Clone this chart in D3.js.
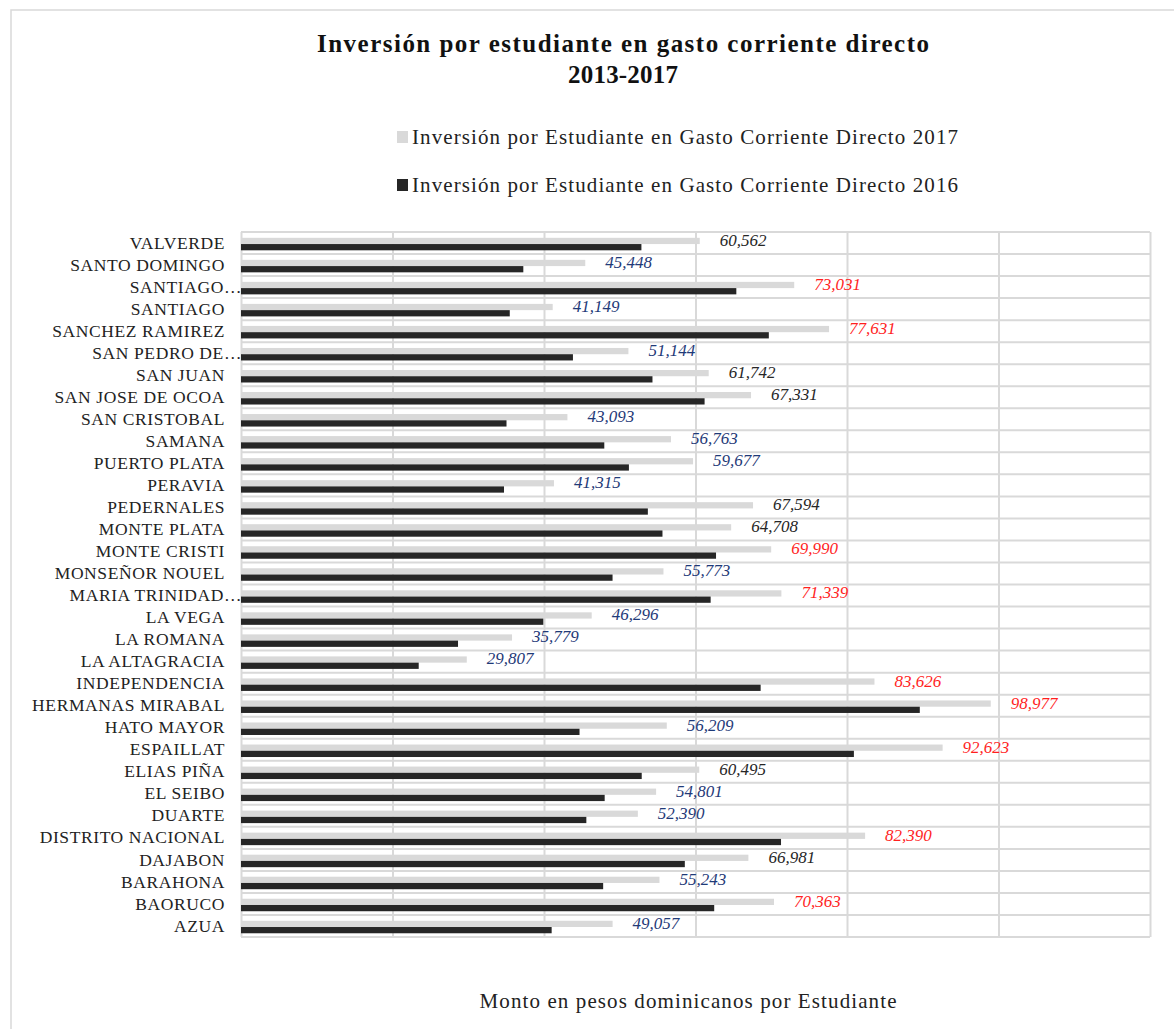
<!DOCTYPE html>
<html>
<head>
<meta charset="utf-8">
<script src="https://cdn.jsdelivr.net/npm/d3@7"></script>
<style>
  body { margin: 0; background: #fff; }
  text { font-family: "Liberation Serif", "DejaVu Serif", serif; }
</style>
</head>
<body>
<script>
// provincias, de arriba hacia abajo como en el gráfico
var provincias = ["VALVERDE", "SANTO DOMINGO", "SANTIAGO…", "SANTIAGO", "SANCHEZ RAMIREZ",
  "SAN PEDRO DE…", "SAN JUAN", "SAN JOSE DE OCOA", "SAN CRISTOBAL", "SAMANA", "PUERTO PLATA",
  "PERAVIA", "PEDERNALES", "MONTE PLATA", "MONTE CRISTI", "MONSEÑOR NOUEL", "MARIA TRINIDAD…",
  "LA VEGA", "LA ROMANA", "LA ALTAGRACIA", "INDEPENDENCIA", "HERMANAS MIRABAL", "HATO MAYOR",
  "ESPAILLAT", "ELIAS PIÑA", "EL SEIBO", "DUARTE", "DISTRITO NACIONAL", "DAJABON", "BARAHONA",
  "BAORUCO", "AZUA"];

// 2017 (etiquetas en el gráfico)
var valores2017 = [60562, 45448, 73031, 41149, 77631, 51144, 61742, 67331, 43093, 56763, 59677,
  41315, 67594, 64708, 69990, 55773, 71339, 46296, 35779, 29807, 83626, 98977, 56209,
  92623, 60495, 54801, 52390, 82390, 66981, 55243, 70363, 49057];

// 2016 (sin etiquetas, estimado por largo de barra)
var valores2016 = [52860, 37270, 65390, 35480, 69680, 43820, 54320, 61200, 35050, 47960, 51210,
  34720, 53710, 55640, 62710, 49050, 62000, 39910, 28650, 23460, 68600, 89610, 44690,
  80910, 52900, 48010, 45590, 71290, 58590, 47810, 62470, 41010];

var series = ["Inversión por Estudiante en Gasto Corriente Directo 2017",
  "Inversión por Estudiante en Gasto Corriente Directo 2016"];
var colores = ["#d9d9d9", "#262626"];

var titulo = ["Inversión por estudiante en gasto corriente directo", "2013-2017"];
var tituloEje = "Monto en pesos dominicanos por Estudiante";

var width = 1174, height = 1029;
var plot = {left: 241, right: 1150, top: 232, bottom: 937};

var svg = d3.select("body").append("svg")
  .attr("width", width)
  .attr("height", height);

// marco exterior
svg.append("rect")
  .attr("x", 11).attr("y", 10)
  .attr("width", width + 20).attr("height", height + 20)
  .attr("fill", "none").attr("stroke", "#d9d9d9").attr("stroke-width", 1.5);

// titulo (Garamond es más ancha -> textLength)
svg.append("text")
  .attr("x", 623).attr("y", 52)
  .attr("text-anchor", "middle")
  .attr("textLength", 612).attr("lengthAdjust", "spacing")
  .style("font-weight", "bold").style("font-size", "25px").style("fill", "#111")
  .text(titulo[0]);
svg.append("text")
  .attr("x", 623).attr("y", 83)
  .attr("text-anchor", "middle")
  .attr("textLength", 110).attr("lengthAdjust", "spacing")
  .style("font-weight", "bold").style("font-size", "25px").style("fill", "#111")
  .text(titulo[1]);

// leyenda
var leyenda = svg.append("g").selectAll("g").data(series).enter().append("g")
  .attr("transform", function (d, i) { return "translate(397," + (137 + i * 48) + ")"; });
leyenda.append("rect")
  .attr("x", 0).attr("y", -6).attr("width", 11).attr("height", 12)
  .attr("fill", function (d, i) { return colores[i]; });
leyenda.append("text")
  .attr("x", 15).attr("y", 0).attr("dy", "0.35em")
  .attr("textLength", 546).attr("lengthAdjust", "spacing")
  .style("font-size", "21px").style("fill", "#222")
  .text(function (d) { return d; });

// escalas
var x = d3.scaleLinear().domain([0, 120000]).range([plot.left, plot.right]);
var y = d3.scaleBand().domain(provincias).range([plot.top, plot.bottom]);
var ySerie = d3.scaleBand().domain([0, 1]).range([5.8, 18.3]);

// rejilla vertical
svg.append("g")
  .attr("transform", "translate(0," + plot.bottom + ")")
  .call(d3.axisBottom(x).tickValues(d3.range(0, 120001, 20000))
    .tickSize(-(plot.bottom - plot.top)).tickFormat(""))
  .call(function (g) {
    g.select(".domain").remove();
    g.selectAll("line").attr("stroke", "#d9d9d9").attr("stroke-width", 2);
  });

// rejilla horizontal (bordes de cada categoría)
svg.append("g").selectAll("line")
  .data(provincias.concat(["__fin"]))
  .enter().append("line")
  .attr("x1", plot.left).attr("x2", plot.right)
  .attr("y1", function (d, i) { return i < provincias.length ? y(d) : plot.bottom; })
  .attr("y2", function (d, i) { return i < provincias.length ? y(d) : plot.bottom; })
  .attr("stroke", "#d9d9d9").attr("stroke-width", 2);

// barras
var datos = provincias.map(function (p, i) {
  return {prov: p, v: [valores2017[i], valores2016[i]]};
});

var filas = svg.append("g").selectAll("g").data(datos).enter().append("g")
  .attr("transform", function (d) { return "translate(0," + y(d.prov) + ")"; });

filas.selectAll("rect").data(function (d) { return d.v; }).enter().append("rect")
  .attr("x", x(0))
  .attr("y", function (d, i) { return ySerie(i); })
  .attr("width", function (d) { return x(d) - x(0); })
  .attr("height", ySerie.bandwidth())
  .attr("fill", function (d, i) { return colores[i]; });

// etiquetas de 2017
function colorEtiqueta(v) {
  if (v >= 69000) return "#ff1f1f";
  if (v >= 60000) return "#262626";
  return "#1f3a78";
}
var fmt = d3.format(",");
filas.append("text")
  .attr("x", function (d) { return x(d.v[0]) + 20; })
  .attr("y", ySerie(0) + ySerie.bandwidth() / 2 - 1)
  .attr("dy", "0.35em")
  .style("font-style", "italic").style("font-size", "17px")
  .style("fill", function (d) { return colorEtiqueta(d.v[0]); })
  .text(function (d) { return fmt(d.v[0]); });

// eje de categorías
svg.append("g")
  .attr("transform", "translate(" + plot.left + ",0)")
  .call(d3.axisLeft(y).tickSize(0).tickPadding(16))
  .call(function (g) {
    g.select(".domain").remove();
    g.selectAll("text")
      .style("font-size", "17.5px").style("fill", "#222")
      .style("letter-spacing", "0.6px")
      .style("font-family", "'Liberation Serif', serif")
      .attr("x", function (d) { return /…$/.test(d) ? 1 : -16; });
  });

// titulo del eje
svg.append("text")
  .attr("x", 688).attr("y", 1008)
  .attr("text-anchor", "middle")
  .attr("textLength", 417).attr("lengthAdjust", "spacing")
  .style("font-size", "21px").style("fill", "#222")
  .text(tituloEje);
</script>
</body>
</html>
